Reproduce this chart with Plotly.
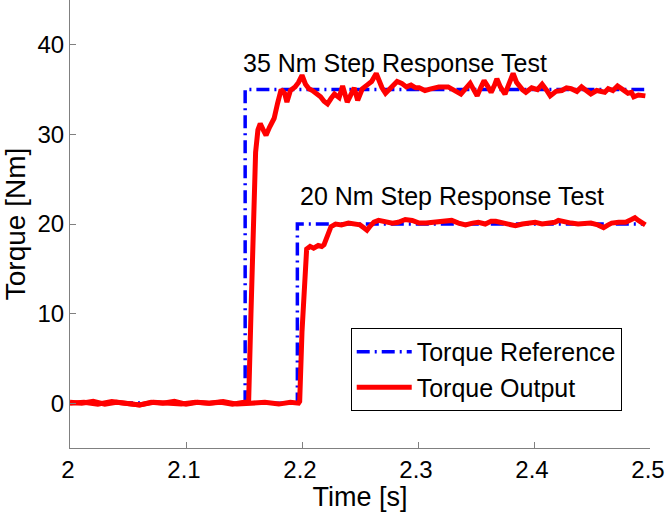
import plotly.graph_objects as go

# Reference steps
ref35_t = [2.0, 2.151, 2.151, 2.495]
ref35_v = [0, 0, 35, 35]
ref20_t = [2.0, 2.196, 2.196, 2.495]
ref20_v = [0, 0, 20, 20]

# 35 Nm output
out35_t = [2.000, 2.010, 2.020, 2.030, 2.040, 2.050, 2.060, 2.070, 2.080, 2.090,
           2.100, 2.110, 2.120, 2.130, 2.140, 2.150, 2.154, 2.156, 2.158, 2.160,
           2.162, 2.164, 2.167, 2.169, 2.172, 2.176, 2.179, 2.182, 2.185, 2.187,
           2.190, 2.194, 2.197, 2.200, 2.203, 2.206, 2.209, 2.212, 2.216, 2.219,
           2.222, 2.225, 2.228, 2.232, 2.235, 2.239, 2.242, 2.245, 2.248, 2.252,
           2.256, 2.260, 2.264, 2.266, 2.269, 2.272, 2.275, 2.278, 2.282, 2.286,
           2.290, 2.294, 2.298, 2.301, 2.306, 2.312, 2.318, 2.326, 2.332, 2.337,
           2.341, 2.345, 2.348, 2.351, 2.354, 2.357, 2.360, 2.363, 2.366, 2.368,
           2.371, 2.375, 2.378, 2.382, 2.385, 2.387, 2.390, 2.393, 2.398, 2.403,
           2.407, 2.411, 2.414, 2.419, 2.424, 2.428, 2.432, 2.437, 2.441, 2.445,
           2.449, 2.454, 2.458, 2.461, 2.464, 2.468, 2.472, 2.476, 2.481, 2.484,
           2.486, 2.490, 2.496]
out35_v = [0.1, 0.0, 0.2, -0.1, 0.1, 0.0, -0.2, 0.1, 0.0, 0.2,
           -0.1, 0.1, 0.0, 0.1, -0.1, 0.1, 0.2, 10.0, 20.0, 28.0,
           30.5, 31.2, 30.4, 29.9, 30.8, 31.8, 33.5, 35.0, 34.6, 33.6,
           34.9, 35.3, 35.8, 36.6, 35.6, 35.1, 34.9, 34.6, 34.2, 33.7,
           33.4, 34.0, 34.5, 34.1, 35.4, 33.6, 34.5, 35.2, 33.8, 35.1,
           35.5, 35.9, 36.8, 36.0, 35.2, 34.6, 35.0, 35.2, 35.9, 35.7,
           35.3, 35.5, 35.2, 35.2, 34.9, 35.1, 35.3, 35.3, 34.9, 34.5,
           35.1, 35.7, 35.0, 34.3, 35.2, 36.0, 35.4, 34.7, 35.5, 36.2,
           35.3, 34.5, 35.5, 36.8, 35.8, 35.4, 35.0, 34.7, 35.2, 35.0,
           35.6, 34.9, 34.3, 34.8, 34.9, 35.2, 35.1, 34.8, 35.3, 34.9,
           34.5, 34.9, 34.8, 34.7, 35.1, 34.9, 35.4, 35.0, 34.6, 34.7,
           34.2, 34.4, 34.3]

# 20 Nm output
out20_t = [2.000, 2.012, 2.024, 2.036, 2.048, 2.060, 2.072, 2.084, 2.096, 2.108,
           2.120, 2.132, 2.144, 2.156, 2.168, 2.180, 2.190, 2.197, 2.198, 2.200,
           2.202, 2.204, 2.207, 2.210, 2.214, 2.217, 2.219, 2.222, 2.225, 2.229,
           2.234, 2.240, 2.246, 2.250, 2.253, 2.256, 2.259, 2.262, 2.266, 2.272,
           2.278, 2.283, 2.289, 2.295, 2.301, 2.307, 2.313, 2.318, 2.324, 2.329,
           2.335, 2.341, 2.347, 2.352, 2.358, 2.363, 2.367, 2.373, 2.379, 2.384,
           2.390, 2.395, 2.401, 2.407, 2.413, 2.418, 2.421, 2.426, 2.432, 2.438,
           2.444, 2.449, 2.455, 2.460, 2.464, 2.467, 2.473, 2.479, 2.484, 2.487,
           2.490, 2.493, 2.496]
out20_v = [0.0, 0.1, -0.1, 0.2, 0.0, -0.2, 0.1, 0.0, -0.1, 0.1,
           0.0, 0.2, -0.1, 0.0, 0.1, -0.1, 0.1, 0.0, 0.2, 8.0,
           14.0, 17.2, 17.5, 17.3, 17.6, 17.5, 17.7, 18.8, 19.7, 20.0,
           19.9, 20.1, 20.0, 19.9, 19.6, 19.3, 19.8, 20.2, 20.4, 20.3,
           20.1, 20.2, 20.5, 20.4, 20.1, 20.1, 20.2, 20.2, 20.3, 20.4,
           20.1, 19.9, 20.1, 20.2, 20.0, 20.3, 20.3, 20.1, 20.0, 19.8,
           20.0, 20.1, 20.2, 20.0, 20.1, 20.2, 20.4, 20.2, 20.1, 20.0,
           20.1, 20.1, 19.9, 19.6, 19.9, 20.1, 20.2, 20.2, 20.5, 20.7,
           20.4, 20.1, 19.9]

x_ticks = [2.0, 2.1, 2.2, 2.3, 2.4, 2.5]
x_ticktext = ["2", "2.1", "2.2", "2.3", "2.4", "2.5"]
y_ticks = [0, 10, 20, 30, 40]

FONT = "Liberation Sans, Arial, Helvetica, sans-serif"
BLUE = "#0000FF"
RED = "#FF0000"
DASH = "13px,5px,2px,5px"

fig = go.Figure()
fig.add_trace(go.Scatter(x=ref35_t, y=ref35_v, mode="lines", name="Torque Reference",
                         line=dict(color=BLUE, width=3.5, dash=DASH)))
fig.add_trace(go.Scatter(x=ref20_t, y=ref20_v, mode="lines", name="Torque Reference",
                         line=dict(color=BLUE, width=3.5, dash=DASH), showlegend=False))
fig.add_trace(go.Scatter(x=out35_t, y=out35_v, mode="lines", name="Torque Output",
                         line=dict(color=RED, width=5)))
fig.add_trace(go.Scatter(x=out20_t, y=out20_v, mode="lines", name="Torque Output",
                         line=dict(color=RED, width=5), showlegend=False))

fig.add_annotation(x=2.280, y=38.0, text="35 Nm Step Response Test", showarrow=False,
                   xanchor="center", yanchor="middle", font=dict(size=25, color="black"))
fig.add_annotation(x=2.3295, y=23.1, text="20 Nm Step Response Test", showarrow=False,
                   xanchor="center", yanchor="middle", font=dict(size=25, color="black"))

axis_common = dict(showline=True, linecolor="#808080", linewidth=1, ticks="inside",
                   ticklen=6, tickcolor="#808080", tickwidth=1, showgrid=False,
                   zeroline=False, mirror=False, tickfont=dict(size=24, color="black"),
                   automargin=False, ticklabeloverflow="allow")

fig.update_xaxes(range=[2.0, 2.5], tickvals=x_ticks, ticktext=x_ticktext,
                 ticklabelshift=-2,
                 title=dict(text="Time [s]", font=dict(size=27, color="black"), standoff=2),
                 **axis_common)
fig.update_yaxes(range=[-5, 45], tickvals=y_ticks,
                 title=dict(text="Torque [Nm]", font=dict(size=28, color="black"), standoff=12),
                 **axis_common)

fig.update_layout(
    width=666, height=512,
    margin=dict(l=70, r=16, t=0, b=64, pad=0),
    paper_bgcolor="white", plot_bgcolor="white",
    font=dict(family=FONT, color="black"),
    legend=dict(x=0.484, y=0.268, xanchor="left", yanchor="top",
                bgcolor="white", bordercolor="black", borderwidth=1,
                font=dict(size=25, color="black"), tracegroupgap=0,
                itemwidth=55, entrywidth=285, entrywidthmode="pixels"),
    showlegend=True,
)

fig.write_html("out.html", config={"displayModeBar": False},
               post_script="document.body.style.margin='0';document.body.style.padding='0';")
